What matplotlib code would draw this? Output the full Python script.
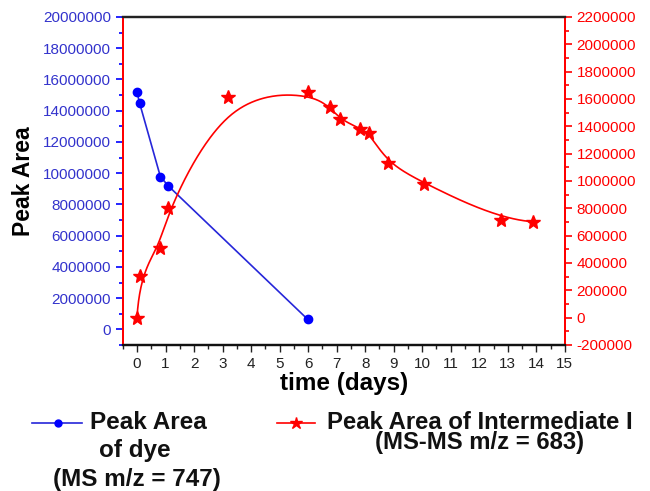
import numpy as np
import matplotlib
matplotlib.use("Agg")
import matplotlib.pyplot as plt
from matplotlib.lines import Line2D
from matplotlib.ticker import MultipleLocator

plt.rcParams['font.family'] = ['Liberation Sans', 'DejaVu Sans']

# dye peak area (left axis)
dye_days = [0.0, 0.09, 0.82, 1.1, 5.98]
dye_area = [15200000, 14500000, 9780000, 9180000, 650000]

# intermediate I peak area (right axis)
int_days = [0.0, 0.09, 0.79, 1.1, 3.18, 5.98, 6.78, 7.12, 7.82, 8.14, 8.79, 10.07, 12.76, 13.89]
int_area = [0, 303000, 506000, 805000, 1612000, 1650000, 1538000, 1452000,
            1384000, 1350000, 1130000, 981000, 717000, 702000]

BLUE = '#0000ff'
BLUE_LINE = '#2626d9'
BLUE_TXT = '#3333cc'
RED = '#ff0000'


def bspline(xs, ys, k=3, n=600):
    # clamped uniform B-spline using the points as control points
    P = np.column_stack([xs, ys]).astype(float)
    m = len(P)
    knots = np.concatenate([np.zeros(k), np.linspace(0, 1, m - k + 1), np.ones(k)])
    t = np.linspace(0, 1, n)
    t[-1] -= 1e-12
    N = np.zeros((n, len(knots) - 1))
    for i in range(len(knots) - 1):
        N[:, i] = (t >= knots[i]) & (t < knots[i + 1])
    for d in range(1, k + 1):
        Nn = np.zeros((n, len(knots) - 1 - d))
        for i in range(len(knots) - 1 - d):
            a = knots[i + d] - knots[i]
            b = knots[i + d + 1] - knots[i + 1]
            left = (t - knots[i]) / a * N[:, i] if a > 0 else 0
            right = (knots[i + d + 1] - t) / b * N[:, i + 1] if b > 0 else 0
            Nn[:, i] = left + right
        N = Nn
    C = N @ P
    return C[:, 0], C[:, 1]


fig = plt.figure(figsize=(6.5, 4.91), dpi=100)
ax = fig.add_axes([0.1888, 0.2974, 0.6802, 0.668])
ax2 = ax.twinx()

ax.plot(dye_days, dye_area, color=BLUE_LINE, lw=1.2, zorder=3)
ax.plot(dye_days, dye_area, ls='none', marker='o', ms=6, color=BLUE, zorder=4)
ax.set_xlim(-0.5, 15)
ax.set_ylim(-1000000, 20000000)

cx, cy = bspline(int_days, int_area)
ax2.plot(cx, cy, color=RED, lw=1.2)
ax2.plot(int_days, int_area, ls='none', marker='*', ms=10, color=RED)
ax2.set_ylim(-200000, 2200000)

ax.xaxis.set_major_locator(MultipleLocator(1))
ax.xaxis.set_minor_locator(MultipleLocator(0.5))
ax.yaxis.set_major_locator(MultipleLocator(2000000))
ax.yaxis.set_minor_locator(MultipleLocator(1000000))
ax2.yaxis.set_major_locator(MultipleLocator(200000))
ax2.yaxis.set_minor_locator(MultipleLocator(100000))
ax.yaxis.set_major_formatter(plt.FuncFormatter(lambda v, p: '%d' % v))
ax2.yaxis.set_major_formatter(plt.FuncFormatter(lambda v, p: '%d' % v))

ax.tick_params(axis='x', which='major', direction='out', length=5, width=1,
               labelsize=11, colors='#222222')
ax.tick_params(axis='x', which='minor', direction='out', length=3, width=1, colors='#222222')
ax.tick_params(axis='y', which='major', direction='out', length=5, width=1.2,
               labelsize=11, colors=BLUE, labelcolor=BLUE_TXT)
ax.tick_params(axis='y', which='minor', direction='out', length=3, width=1.2, colors=BLUE)
ax2.tick_params(axis='y', which='major', direction='out', length=5, width=1.2,
                labelsize=11, colors=RED)
ax2.tick_params(axis='y', which='minor', direction='out', length=3, width=1.2, colors=RED)

for a in (ax, ax2):
    a.spines['left'].set_color(RED)
    a.spines['right'].set_color(RED)
    a.spines['top'].set_color('#222222')
    a.spines['bottom'].set_color('#111111')
    a.spines['top'].set_linewidth(1.6)
    a.spines['bottom'].set_linewidth(1.6)
    a.spines['left'].set_linewidth(1.4)
    a.spines['right'].set_linewidth(1.4)

ax.set_xlabel('time (days)', fontsize=17.5, fontweight='bold', labelpad=1)
ax.set_ylabel('Peak Area', fontsize=16.5, fontweight='bold', labelpad=6)

# legend drawn below the axes
LEG = dict(fontweight='bold', va='center', color='#111111')
fig.add_artist(Line2D([0.049, 0.126], [0.1385, 0.1385], color=BLUE_LINE, lw=1.2,
                      transform=fig.transFigure))
fig.add_artist(Line2D([0.089], [0.1385], color=BLUE, marker='o', ms=5,
                      transform=fig.transFigure))
fig.text(0.1385, 0.1385, 'Peak Area', fontsize=17.5, **LEG)
fig.text(0.1523, 0.0835, 'of dye', fontsize=17.5, **LEG)
fig.text(0.0815, 0.0244, '(MS m/z = 747)', fontsize=17.5, **LEG)

fig.add_artist(Line2D([0.426, 0.4846], [0.1385, 0.1385], color=RED, lw=1.2,
                      transform=fig.transFigure))
fig.add_artist(Line2D([0.455], [0.1385], color=RED, marker='*', ms=9,
                      transform=fig.transFigure))
fig.text(0.503, 0.1195, 'Peak Area of Intermediate I\n(MS-MS m/z = 683)', fontsize=17.2,
         multialignment='center', linespacing=0.84, **LEG)

fig.savefig('out.png', dpi=100)
